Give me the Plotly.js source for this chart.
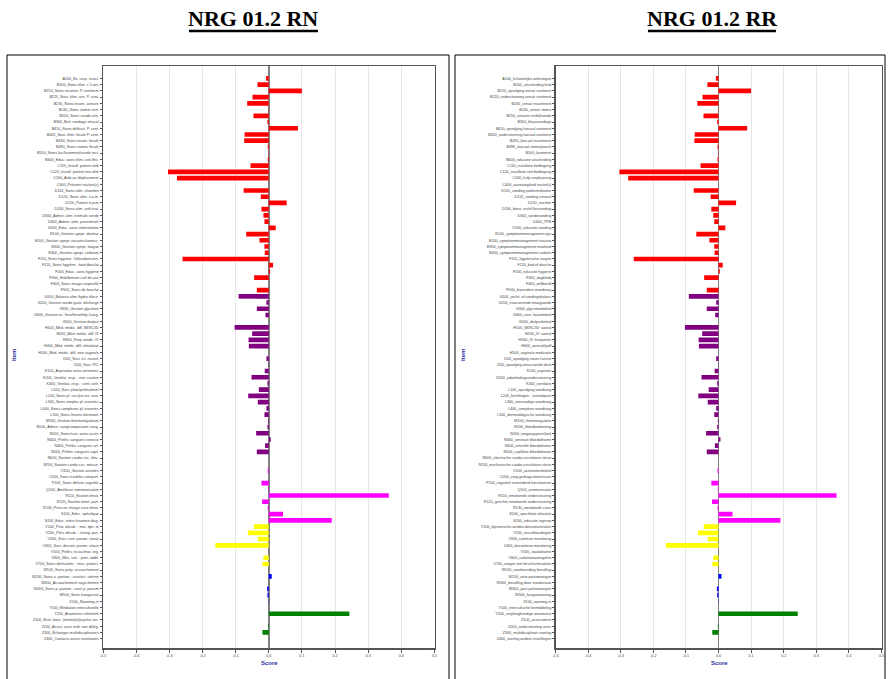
<!DOCTYPE html>
<html>
<head>
<meta charset="utf-8">
<script src="https://cdn.plot.ly/plotly-3.0.1.min.js"></script>
<style>html,body{margin:0;padding:0;background:#fff;}#chart{width:890px;height:679px;}</style>
</head>
<body>
<div id="chart"></div>
<script>
const categoriesRN = [
"A100_Ex. corp. struct.","B100_Soins élim. < 5 ans","B210_Soins incontin. P. continent","B220_Sout. élim. urin. P. cont.",
"B230_Soins incont. urinaire","B240_Soins stomie urin.","B250_Soins sonde urin.","B300_Biol. sondage vésical",
"B410_Soins défécat. P. cont.","B420_Sout. élim. fécale P. cont.","B430_Soins incont. fécale","B490_Soins stomie fécale",
"B500_Soins lav./lavement/sonde rect.","B600_Educ. soins élim. urin./féc.","C110_Install. patient alité","C120_Install. patient non alité",
"C200_Aide au déplacement","C400_Prévenir traction(s)","D110_Soins alim. chambre","D120_Soins alim. s.a.m.",
"D150_Patient à jeun","D200_Soins alim. artif./nut.","D300_Admin. alim. entérale sonde","D400_Admin. alim. parentérale",
"D500_Educ. soins alimentation","E100_Gestion sympt. douleur","E200_Gestion sympt. nausées/vomiss.","E300_Gestion sympt. fatigue",
"E400_Gestion sympt. sédation","F110_Soins hygiène : lit/lavabo/cons.","F120_Soins hygiène : bain/douche","F200_Educ. soins hygiène",
"F300_Habillement civil de jour","F400_Soins image corporelle","F500_Soins de bouche","G100_Balance alim./hydro électr.",
"G200_Gestion sonde gastr. décharge","G300_Gestion glycémie","G400_Gestion ac. fluro/ferro/hép./coag.","G500_Gestion dialyse",
"H100_Méd. médic. diff. IM/SC/ID","H200_Méd. médic. diff. IV","H300_Fréq. médic. IV","H400_Méd. médic. diff. inhalation",
"H500_Méd. médic. diff. voie vaginale","I100_Surv. fct. neurol.","I200_Surv. PIC","K100_Aspiration voies aériennes",
"K200_Ventilat. resp. : inst. soutien","K300_Ventilat. resp. : vent. artif.","L100_Surv. plaie/pst/matériel","L200_Soins pl. sut./pst-ms. mat.",
"L300_Soins simples pl. ouvertes","L400_Soins complexes pl. ouvertes","L500_Soins lésions dermatol.","M100_Gestion thermorégulation",
"N100_Admin. sang/composants sang.","N200_Soins/surv. voies accès","N300_Prélèv. sanguins veineux","N400_Prélèv. sanguins art.",
"N500_Prélèv. sanguins capil.","N600_Soutien cardio circ. élec.","N700_Soutien cardio circ. mécan.","O100_Gestion activités",
"O200_Soins troubles comport.","P100_Soins déficits cognitifs","Q100_Améliorer communication","R110_Soutien émot.",
"R120_Soutien émot. part.","R130_Prise en charge crise émot.","S100_Educ. spécifique","S200_Educ. interv./examen diag.",
"V100_Prév. décub. : mat. dyn. m","V200_Prév. décub. : chang. pos.","V300_Surv. cont. param. vitaux","V400_Surv. discont. param. vitaux",
"V500_Prélèv. tissus/mat. org.","V600_Mes. isol. : prév. addit.","V700_Soins dét/isolem. : mes. protect.","W100_Soins prép. accouchement",
"W200_Soins a. partum : surv/act. utérine","W300_Accouchement sage-femme","W400_Soins p. partum : surv/ p. partum","W500_Soins kangourou",
"X100_Rooming-in","Y100_Médiation interculturelle","Y200_Anamnèse infirmière","Z100_Eval. fonct. (mentale)/psycho soc.",
"Z200_Assist. activ. mdt. non délég.","Z300_Échanges multidisciplinaires","Z400_Contacts autres institutions"
];
const categoriesRR = [
"A100_lichamelijke oefeningen","B100_uitscheiding kind","B210_opvolging urinair continent","B220_ondersteuning urinair continent",
"B230_urinair incontinent","B240_urinair stoma","B250_urinaire verblijfsonde","B300_blaassondage",
"B410_opvolging faecaal continent","B420_ondersteuning faecaal continent","B430_faecaal incontinent","B490_faecaal stoma/pouch",
"B500_lavement","B600_educatie uitscheiding","C110_installatie bedlegerig","C120_installatie niet bedlegerig",
"C200_hulp verplaatsing","C400_aanwezigheid tractie(s)","D110_voeding patiëntenkamer","D120_voeding eetzaal",
"D150_nuchter","D200_borst- en/of flesvoeding","D300_sondevoeding","D400_TPN",
"D500_educatie voeding","E100_symptoommanagement pijn","E200_symptoommanagement nausea","E300_symptoommanagement moeheid",
"E400_symptoommanagement sedatie","F110_hygiënische zorgen","F120_bad of douche","F200_educatie hygiëne",
"F300_dagkledij","F400_zelfbeeld","F500_bijzondere mondzorg","G100_vocht- of voedingsbalans",
"G200_evacuerende maagsonde","G300_glycemiebeleid","G400_zuur- basebeleid","G500_dialysebeleid",
"H100_IM/SC/ID: aantal","H200_IV: aantal","H300_IV: frequentie","H400_aerosol/puff",
"H500_vaginale medicatie","I100_opvolging neuro functie","I200_opvolging intracraniële druk","K100_aspiratie",
"K200_ademhalingsondersteuning","K300_ventilatie","L100_opvolging wondzorg","L200_hechtingen - insteekpunt",
"L300_eenvoudige wondzorg","L400_complexe wondzorg","L500_dermatologische wondzorg","M100_thermoregulatie",
"N100_bloedtoediening","N200_toegangspoort(en)","N300_veneuze bloedafname","N400_arteriële bloedafname",
"N500_capillaire bloedafname","N600_electrische cardio-circulatoire steun","N700_mechanische cardio-circulatoire steun","O100_activiteitenbeleid",
"O200_zorg gedragsstoornissen","P100_cognitief verminderd functioneren","Q100_communicatie","R110_emotionele ondersteuning",
"R120_gerichte emotionele ondersteuning","R130_emotionele crisis","S100_specifieke educatie","S200_educatie ingreep",
"V100_dynamische antidecubitusmaterialen","V200_wisselhoudingen","V300_continue monitoring","V400_discontinue monitoring",
"V500_staalafname","V600_isolatiemaatregelen","V700_zorgen met beschermisolatie","W100_voorbereiding bevalling",
"W200_ante partumzorgen","W300_bevalling door vroedvrouw","W400_post partumzorgen","W500_kangoeroezorg",
"X100_rooming-in","Y100_interculturele bemiddeling","Y200_verpleegkundige anamnese","Z100_assessment",
"Z200_ondersteuning activ.","Z300_multidisciplinair overleg","Z400_overleg andere instellingen"
];
const scores = [
-0.008,-0.034,0.100,-0.049,-0.065,-0.001,-0.046,-0.004,
0.088,-0.073,-0.074,-0.003,-0.001,-0.003,-0.055,-0.304,
-0.277,0.000,-0.076,-0.024,0.054,-0.022,-0.016,-0.013,
0.021,-0.068,-0.028,-0.013,-0.012,-0.260,0.013,0.004,
-0.044,0.000,-0.036,-0.091,-0.007,-0.036,-0.010,0.000,
-0.103,-0.050,-0.061,-0.060,0.000,-0.007,-0.001,-0.012,
-0.052,-0.004,-0.030,-0.062,-0.033,-0.007,-0.013,-0.002,
-0.004,-0.038,0.006,-0.011,-0.036,0.000,0.000,-0.003,
0.000,-0.022,-0.002,0.362,-0.020,-0.003,0.043,0.190,
-0.045,-0.063,-0.033,-0.161,0.000,-0.016,-0.019,0.000,
0.009,0.000,-0.005,-0.004,0.001,0.000,0.243,0.000,
-0.002,-0.019,0.000
];
const axisTicks = [-0.5,-0.4,-0.3,-0.2,-0.1,0,0.1,0.2,0.3,0.4,0.5];

const groupColor = {A:'#ff0000',B:'#ff0000',C:'#ff0000',D:'#ff0000',E:'#ff0000',F:'#ff0000',
  G:'#800080',H:'#800080',I:'#800080',K:'#800080',L:'#800080',M:'#800080',N:'#800080',
  O:'#ff00ff',P:'#ff00ff',Q:'#ff00ff',R:'#ff00ff',S:'#ff00ff',
  V:'#ffff00',W:'#0000ff',X:'#0000ff',Y:'#008000',Z:'#008000'};
const colors = categoriesRN.map(c => groupColor[c[0]]);

const W = 890, H = 679;
const px = v => v / W, py = v => 1 - v / H;

function bars(cats, xa, ya) {
  return {type:'bar', orientation:'h', x:scores, y:cats, xaxis:xa, yaxis:ya,
    marker:{color:colors, line:{width:0}}, width:0.75, hoverinfo:'x+y'};
}
const tickFont = {family:'Liberation Sans, Arial, sans-serif', size:3.7, color:'#444'};
function xAx(d0, d1, anchor) {
  return {domain:[px(d0), px(d1)], anchor:anchor, range:[-0.5,0.5], tickmode:'array', tickvals:axisTicks,
    ticktext:axisTicks.map(v=>v.toFixed(1)),
    showgrid:true, gridcolor:'#e6e6e6', gridwidth:1, zeroline:true, zerolinecolor:'#808080', zerolinewidth:1.5,
    showline:true, mirror:true, linecolor:'#555', linewidth:1.5, ticks:'outside', ticklen:3, tickcolor:'#555',
    tickfont:tickFont, fixedrange:true};
}
function yAx(cats, anchor) {
  return {domain:[py(648), py(66)], anchor:anchor, type:'category', range:[91.5,-2],
    tickmode:'array', tickvals:cats, ticktext:cats, showgrid:false, zeroline:false,
    showline:true, mirror:true, linecolor:'#555', linewidth:1.5, ticks:'outside', ticklen:2, tickcolor:'#555',
    tickfont:tickFont, fixedrange:true};
}

const titleFont = {family:'Liberation Serif, Times New Roman, serif', size:22, color:'#000'};
const axTitleFont = {family:'Liberation Sans Narrow, Liberation Sans, Arial, sans-serif', size:6, color:'#2b2b9e'};

const layout = {
  width:W, height:H, margin:{l:0,r:0,t:0,b:0}, paper_bgcolor:'#fff', plot_bgcolor:'#fff',
  showlegend:false, bargap:0.25,
  xaxis: xAx(103, 434.5, 'y'), yaxis: yAx(categoriesRN, 'x'),
  xaxis2: xAx(555.5, 881.5, 'y2'), yaxis2: yAx(categoriesRR, 'x2'),
  annotations:[
    {text:'<b>NRG 01.2 RN</b>', x:px(253), y:py(18), xref:'paper', yref:'paper', showarrow:false, font:titleFont, xanchor:'center', yanchor:'middle'},
    {text:'<b>NRG 01.2 RR</b>', x:px(712), y:py(18), xref:'paper', yref:'paper', showarrow:false, font:titleFont, xanchor:'center', yanchor:'middle'},
    {text:'<b>Score</b>', x:px(269), y:py(663), xref:'paper', yref:'paper', showarrow:false, font:axTitleFont, xanchor:'center', yanchor:'middle'},
    {text:'<b>Score</b>', x:px(719), y:py(663), xref:'paper', yref:'paper', showarrow:false, font:axTitleFont, xanchor:'center', yanchor:'middle'},
    {text:'<b>Item</b>', x:px(14), y:py(355), xref:'paper', yref:'paper', showarrow:false, font:axTitleFont, textangle:-90, xanchor:'center', yanchor:'middle'},
    {text:'<b>Item</b>', x:px(463), y:py(355), xref:'paper', yref:'paper', showarrow:false, font:axTitleFont, textangle:-90, xanchor:'center', yanchor:'middle'}
  ],
  shapes:[
    {type:'line', xref:'paper', yref:'paper', x0:px(189), x1:px(318), y0:py(31), y1:py(31), line:{color:'#000', width:2.5}},
    {type:'line', xref:'paper', yref:'paper', x0:px(648), x1:px(776), y0:py(31), y1:py(31), line:{color:'#000', width:2.5}},
    {type:'rect', xref:'paper', yref:'paper', x0:px(7), x1:px(449), y0:-0.02, y1:py(55), line:{color:'#000', width:1}},
    {type:'rect', xref:'paper', yref:'paper', x0:px(455), x1:px(885), y0:-0.02, y1:py(55), line:{color:'#000', width:1}}
  ]
};

Plotly.newPlot('chart', [bars(categoriesRN,'x','y'), bars(categoriesRR,'x2','y2')], layout, {displayModeBar:false, staticPlot:true});
</script>
</body>
</html>
